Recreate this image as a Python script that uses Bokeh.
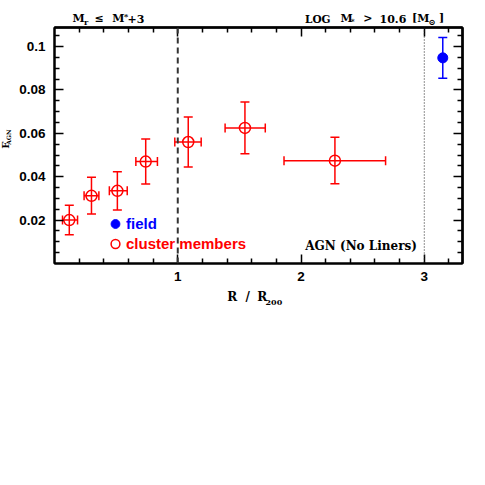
import math
from bokeh.plotting import figure
from bokeh.layouts import column, row
from bokeh.models import (ColumnDataSource, Whisker, TeeHead, Span, Label, LinearAxis,
                          FixedTicker, Legend, LegendItem, Range1d)
from bokeh.embed import file_html
from bokeh.resources import INLINE

# ---------------- data ----------------
R_CLUSTER = [0.12, 0.30, 0.51, 0.74, 1.085, 1.545, 2.275]
F_CLUSTER = [0.0200, 0.0312, 0.0335, 0.0470, 0.0560, 0.0625, 0.0474]
R_CLUSTER_LO = [0.065, 0.24, 0.445, 0.66, 0.976, 1.384, 1.862]
R_CLUSTER_HI = [0.187, 0.36, 0.59, 0.835, 1.19, 1.71, 2.686]
F_CLUSTER_LO = [0.0132, 0.0228, 0.0247, 0.0366, 0.0445, 0.0506, 0.0368]
F_CLUSTER_HI = [0.0268, 0.0398, 0.0423, 0.0574, 0.0675, 0.0745, 0.0582]

R_FIELD = [3.15]
F_FIELD = [0.0948]
F_FIELD_LO = [0.0854]
F_FIELD_HI = [0.1042]

R_VIRIAL = 1
R_FIELD_LIMIT = 3

X_TICKS = [1, 2, 3]
X_MINOR = [round(0.2 * i, 1) for i in range(0, 17) if i % 5 != 0]
Y_TICKS = [0.02, 0.04, 0.06, 0.08, 0.1]
Y_TICK_LABELS = ["0.02", "0.04", "0.06", "0.08", "0.1"]
Y_MINOR = [round(0.005 * i, 3) for i in range(1, 22) if i % 4 != 0]

X_START, X_END = 0.0, 3.31
Y_START, Y_END = 0.0, 0.1088

# ---------------- layout ----------------
TOTAL_W = 477
TOP_H = 26
LEFT_W = 16
FW, FH = 408, 236
BL, BR, BT, BB = 37, 16, 1, 25
MAIN_H = BT + FH + BB
BOTTOM_H = 34
FRAME_BOTTOM_PAGE = TOP_H + BT + FH

RED = "#ff0000"
BLUE = "#0000ff"
TICK_FONT = "Liberation Sans"
SERIF = "DejaVu Serif"


def dy(page_y):
    return Y_START + (FRAME_BOTTOM_PAGE - page_y) / FH * (Y_END - Y_START)


def text_fig(w, h):
    f = figure(width=w, height=h, output_backend="svg", toolbar_location=None,
               x_range=Range1d(0, w), y_range=Range1d(h, 0),
               min_border=0, x_axis_location=None, y_axis_location=None)
    f.grid.visible = False
    f.outline_line_color = None
    f.background_fill_color = "white"
    f.border_fill_color = "white"
    return f


top_fig = text_fig(TOTAL_W, TOP_H)
left_fig = text_fig(LEFT_W, MAIN_H)
bottom_fig = text_fig(TOTAL_W, BOTTOM_H)

p = figure(frame_width=FW, frame_height=FH, output_backend="svg", toolbar_location=None,
           x_range=Range1d(X_START, X_END), y_range=Range1d(Y_START, Y_END),
           min_border_left=BL, min_border_right=BR, min_border_top=BT, min_border_bottom=BB,
           x_axis_location=None, y_axis_location=None)
p.grid.visible = False
p.outline_line_color = "black"
p.outline_line_width = 2
p.background_fill_color = "white"
p.border_fill_color = "white"


def base_axis(ax):
    ax.axis_line_color = "black"
    ax.axis_line_width = 2
    ax.major_tick_out = 0
    ax.minor_tick_out = 0
    ax.major_tick_line_width = 1.5
    ax.minor_tick_line_width = 1.5
    ax.major_tick_line_color = "black"
    ax.minor_tick_line_color = "black"


def labelled_axis(ticker, standoff, **kw):
    ax = LinearAxis(ticker=ticker, **kw)
    base_axis(ax)
    ax.major_tick_in = 9
    ax.minor_tick_in = 5
    ax.major_label_standoff = standoff
    ax.major_label_text_font = TICK_FONT
    ax.major_label_text_font_style = "bold"
    ax.major_label_text_font_size = "13.5px"
    ax.major_label_text_color = "black"
    return ax


def tick_only_axis(positions, length):
    # axis without major ticks (hence without labels); marks drawn as minor ticks
    ax = LinearAxis(ticker=FixedTicker(ticks=[], minor_ticks=positions))
    base_axis(ax)
    ax.minor_tick_in = length
    return ax


p.add_layout(labelled_axis(FixedTicker(ticks=X_TICKS, minor_ticks=X_MINOR), 8), "below")
p.add_layout(labelled_axis(FixedTicker(ticks=Y_TICKS, minor_ticks=Y_MINOR), 9,
                           major_label_overrides=dict(zip(Y_TICKS, Y_TICK_LABELS))), "left")
p.add_layout(tick_only_axis(X_MINOR, 5), "above")
p.add_layout(tick_only_axis(X_TICKS, 9), "above")
p.add_layout(tick_only_axis(Y_MINOR, 5), "right")
p.add_layout(tick_only_axis(Y_TICKS, 9), "right")

# reference lines
p.add_layout(Span(location=R_VIRIAL, dimension="height", line_color="#333333",
                  line_width=2, line_dash="6 4"))
p.add_layout(Span(location=R_FIELD_LIMIT, dimension="height", line_color="#222222",
                  line_width=1, line_dash="1 2"))

src_c = ColumnDataSource(dict(r=R_CLUSTER, f=F_CLUSTER, rlo=R_CLUSTER_LO, rhi=R_CLUSTER_HI,
                              flo=F_CLUSTER_LO, fhi=F_CLUSTER_HI))
src_f = ColumnDataSource(dict(r=R_FIELD, f=F_FIELD, flo=F_FIELD_LO, fhi=F_FIELD_HI))


def tee(color):
    return TeeHead(size=9, line_color=color, line_width=1.5)


p.add_layout(Whisker(source=src_c, base="r", lower="flo", upper="fhi", dimension="height",
                     line_color=RED, line_width=1.5, lower_head=tee(RED), upper_head=tee(RED)))
p.add_layout(Whisker(source=src_c, base="f", lower="rlo", upper="rhi", dimension="width",
                     line_color=RED, line_width=1.5, lower_head=tee(RED), upper_head=tee(RED)))
p.add_layout(Whisker(source=src_f, base="r", lower="flo", upper="fhi", dimension="height",
                     line_color=BLUE, line_width=1.5, lower_head=tee(BLUE), upper_head=tee(BLUE)))

rc = p.scatter("r", "f", source=src_c, size=11, marker="circle", fill_color=None,
               line_color=RED, line_width=1.5)
rf = p.scatter("r", "f", source=src_f, size=10, marker="circle", fill_color=BLUE,
               line_color=BLUE, line_width=1)

# legends (two, because the label colours differ); location = bottom-left in frame px
for label, rend, color, loc in [("field", rf, BLUE, (50, 27.5)),
                                ("cluster members", rc, RED, (50, 7.5))]:
    lg = Legend(items=[LegendItem(label=label, renderers=[rend])], location=loc,
                glyph_width=22, glyph_height=25, label_standoff=0,
                padding=0, margin=0, border_line_color=None, background_fill_color=None,
                background_fill_alpha=0, label_text_font=TICK_FONT,
                label_text_font_style="bold", label_text_font_size="15px",
                label_text_color=color, label_text_baseline="alphabetic")
    p.add_layout(lg, "center")

p.add_layout(Label(x=R_FIELD_LIMIT - 0.06, y=dy(245), text="AGN (No Liners)", text_font=SERIF,
                   text_font_style="bold", text_font_size="12px", text_color="black",
                   text_align="right", text_baseline="alphabetic"))


def put(fig, txt, x, y, fs, angle=0.0, align="left", baseline="alphabetic"):
    fig.add_layout(Label(x=x, y=y, text=txt, text_font=SERIF, text_font_style="bold",
                         text_font_size=f"{fs}px", text_color="black", text_align=align,
                         text_baseline=baseline, angle=angle))


# top titles (page px == local px of the top strip)
for txt, x, y, fs in [("M", 72, 18.3, 11), ("r", 83.5, 21, 8), ("\u2264", 94, 18.3, 11),
                      ("M", 111.7, 18.3, 11), ("*", 123.5, 15.5, 8), ("+3", 127, 18.3, 11),
                      ("LOG", 304.5, 18.3, 10.5), ("M", 340, 18.3, 11), ("*", 350.5, 21.3, 7),
                      (">", 362.7, 18.3, 11), ("10.6", 379, 18.3, 11), ("[M", 411.5, 18.3, 11),
                      ("\u2299", 428, 21, 8.5), ("]", 438.5, 18.3, 11)]:
    put(top_fig, txt, x, y, fs)

# y axis title (rotated, centred pieces; local px of the left strip)
YLAB_SHIFT = 4
put(left_fig, "F", 5.4, 152.7 - TOP_H + YLAB_SHIFT, 10, math.pi / 2, "center", "middle")
put(left_fig, "AGN", 7.9, 143.8 - TOP_H + YLAB_SHIFT, 6, math.pi / 2, "center", "middle")

# x axis title (local px of the bottom strip)
y0 = TOP_H + MAIN_H
for txt, x, y, fs in [("R", 226.7, 296.7, 12), ("/", 245, 296.7, 12), ("R", 256.7, 296.7, 12),
                      ("200", 265, 301.5, 8)]:
    put(bottom_fig, txt, x, y - y0, fs)

layout = column(top_fig, row(left_fig, p, spacing=0), bottom_fig, spacing=0)

open("out.html", "w").write(file_html(layout, INLINE))
